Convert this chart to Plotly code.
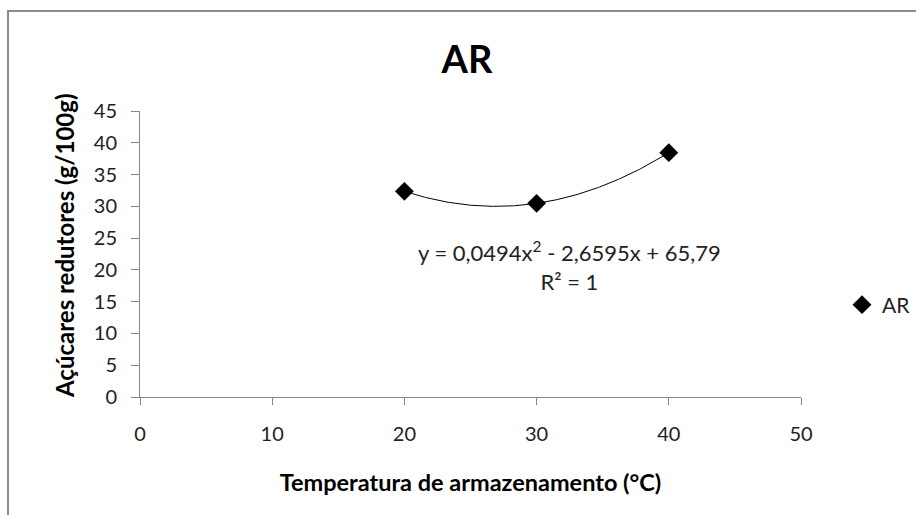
import numpy as np
import plotly.graph_objects as go

# Storage temperature (°C) and reducing sugars (g/100g)
temperatura = [20, 30, 40]
acucares = [32.36, 30.47, 38.45]

# Quadratic trendline coefficients (a, b, c) for y = a·x² + b·x + c
coef = [0.0494, -2.6595, 65.79]
r2 = 1

x_ticks = [0, 10, 20, 30, 40, 50]
y_ticks = [0, 5, 10, 15, 20, 25, 30, 35, 40, 45]

FONT = "Lato"
TXT = "#222222"
AXIS = "#868686"

W, H = 916, 515
ML, MR, MT, MB = 140, 115, 111, 118

xs = np.linspace(min(temperatura), max(temperatura), 200)
ys = np.polyval(coef, xs)

fig = go.Figure()
fig.add_trace(go.Scatter(
    x=xs, y=ys, mode="lines",
    line=dict(color="#000000", width=1),
    showlegend=False, hoverinfo="skip",
))
fig.add_trace(go.Scatter(
    x=temperatura, y=acucares, mode="markers", name="AR",
    marker=dict(symbol="diamond", size=14.5, color="#000000"),
))

def fmt(v):
    return f"{abs(v):g}".replace(".", ",")

eq = (f"y = {fmt(coef[0])}x<sup>2</sup> - {fmt(coef[1])}x + {fmt(coef[2])}"
      f"<br>R² = {r2}")
fig.add_annotation(
    x=32.5, y=20.6, xref="x", yref="y", text=eq, showarrow=False,
    font=dict(family=FONT, size=22, color=TXT), align="center",
)

pw, ph = W - ML - MR, H - MT - MB
def px_x(p):
    return (p - ML) / pw
def px_y(p):
    return (H - MB - p) / ph

# y-axis title, set slightly above the plot's vertical centre
fig.add_annotation(
    x=px_x(65), y=px_y(246), xref="paper", yref="paper",
    text="<b>Açúcares redutores (g/100g)</b>", textangle=-90,
    showarrow=False, xanchor="center", yanchor="middle",
    font=dict(family=FONT, size=24, color="#000000"),
)

# chart frame (runs past the right and bottom edges)
fig.add_shape(
    type="rect", xref="paper", yref="paper",
    x0=px_x(8), x1=px_x(930), y0=px_y(530), y1=px_y(11),
    line=dict(color="#8c8c8c", width=2), fillcolor="rgba(0,0,0,0)",
    layer="below",
)

fig.update_layout(
    width=W, height=H,
    margin=dict(l=ML, r=MR, t=MT, b=MB, autoexpand=False),
    paper_bgcolor="#ffffff", plot_bgcolor="#ffffff",
    title=dict(text="<b>AR</b>", x=467 / W, xanchor="center",
               y=1 - 60 / H, yanchor="middle",
               font=dict(family=FONT, size=38, color="#000000")),
    legend=dict(x=px_x(842), y=px_y(305), xanchor="left", yanchor="middle",
                font=dict(family=FONT, size=21, color=TXT),
                bgcolor="rgba(0,0,0,0)", itemwidth=30),
    xaxis=dict(
        range=[0, 50], tickvals=x_ticks, showgrid=False, zeroline=False,
        showline=True, linecolor=AXIS, linewidth=1,
        ticks="outside", ticklen=7, tickcolor=AXIS, ticklabelstandoff=12,
        tickfont=dict(family=FONT, size=20, color=TXT),
        title=dict(text="<b>Temperatura de armazenamento (°C)</b>", standoff=30,
                   font=dict(family=FONT, size=23.5, color="#000000")),
    ),
    yaxis=dict(
        range=[0, 45], tickvals=y_ticks, showgrid=False, zeroline=False,
        showline=True, linecolor=AXIS, linewidth=1,
        ticks="outside", ticklen=8, tickcolor=AXIS, ticklabelstandoff=10,
        tickfont=dict(family=FONT, size=20, color=TXT),
    ),
)

fig.write_html("out.html")
